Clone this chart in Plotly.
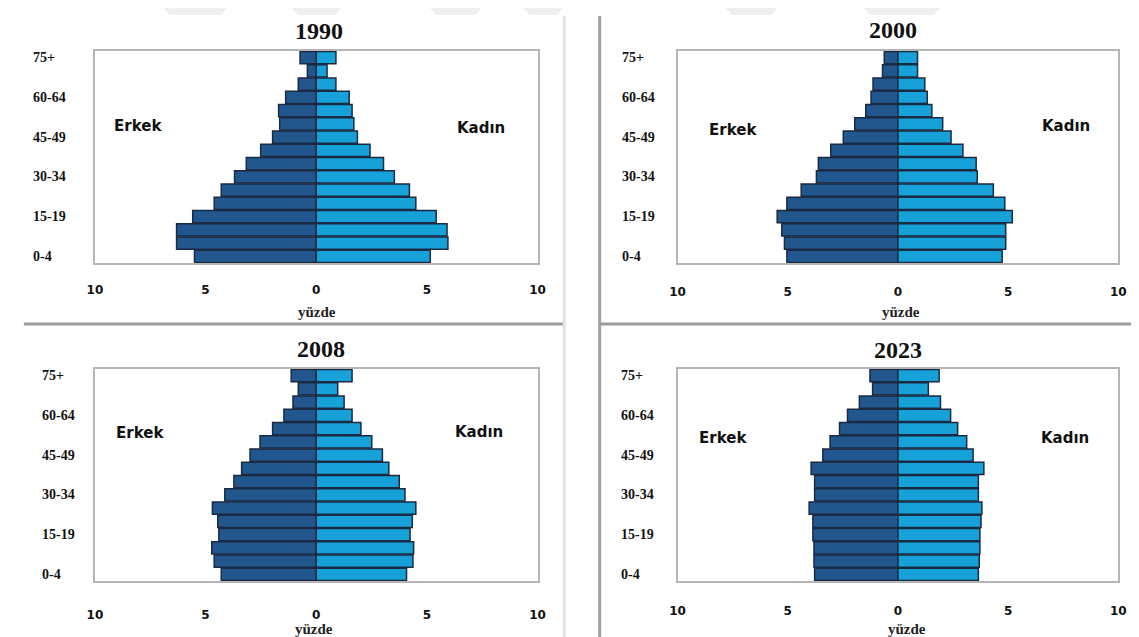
import plotly.graph_objects as go

W, H = 1139, 637

age_groups = ["0-4", "5-9", "10-14", "15-19", "20-24", "25-29", "30-34", "35-39",
              "40-44", "45-49", "50-54", "55-59", "60-64", "65-69", "70-74", "75+"]
age_tick_labels = ["0-4", "15-19", "30-34", "45-49", "60-64", "75+"]

years = ["1990", "2000", "2008", "2023"]

male_1990 = [5.50, 6.31, 6.31, 5.58, 4.61, 4.29, 3.69, 3.16, 2.51, 1.97, 1.65, 1.70, 1.38, 0.81, 0.40, 0.73]
female_1990 = [5.15, 5.95, 5.91, 5.42, 4.50, 4.21, 3.53, 3.04, 2.43, 1.86, 1.70, 1.62, 1.49, 0.89, 0.49, 0.89]

male_2000 = [5.04, 5.15, 5.27, 5.48, 5.04, 4.39, 3.70, 3.61, 3.05, 2.48, 1.96, 1.46, 1.22, 1.13, 0.70, 0.62]
female_2000 = [4.73, 4.89, 4.89, 5.19, 4.85, 4.33, 3.60, 3.55, 2.95, 2.41, 2.03, 1.54, 1.33, 1.22, 0.89, 0.89]

male_2008 = [4.29, 4.61, 4.72, 4.40, 4.45, 4.69, 4.13, 3.72, 3.37, 2.99, 2.54, 1.97, 1.46, 1.05, 0.81, 1.13]
female_2008 = [4.08, 4.37, 4.40, 4.24, 4.34, 4.50, 4.01, 3.75, 3.28, 2.99, 2.51, 2.02, 1.62, 1.26, 0.97, 1.62]

male_2023 = [3.78, 3.81, 3.81, 3.86, 3.86, 4.03, 3.78, 3.78, 3.94, 3.41, 3.08, 2.65, 2.29, 1.75, 1.15, 1.27]
female_2023 = [3.65, 3.69, 3.72, 3.72, 3.77, 3.81, 3.65, 3.65, 3.90, 3.41, 3.12, 2.71, 2.39, 1.93, 1.38, 1.87]

x_tick_vals = [-10, -5, 0, 5, 10]
x_tick_text = ["10", "5", "0", "5", "10"]

male_label = "Erkek"
female_label = "Kadın"
x_title = "yüzde"

MALE_COLOR = "#22578e"
FEMALE_COLOR = "#17a1d9"
OUTLINE = "#1a2a42"

male_data = [male_1990, male_2000, male_2008, male_2023]
female_data = [female_1990, female_2000, female_2008, female_2023]


def px_x(v):
    return v / W


def px_y(v):
    return 1 - v / H


panels = [
    dict(x0=80, x1=529, y0=43, y1=255, title=(307, 23), ylab_x=15, standoff=15,
         erkek=(124, 118), kadin=(472, 120), yuzde=(305, 304)),
    dict(x0=671, x1=1118, y0=43, y1=255, title=(889, 22), ylab_x=613, standoff=17,
         erkek=(727, 122), kadin=(1065, 118), yuzde=(898, 304)),
    dict(x0=80, x1=529, y0=361, y1=573, title=(309, 341), ylab_x=24, standoff=22,
         erkek=(126, 425), kadin=(470, 424), yuzde=(302, 621)),
    dict(x0=671, x1=1118, y0=361, y1=573, title=(895, 342), ylab_x=612, standoff=18,
         erkek=(717, 430), kadin=(1064, 430), yuzde=(904, 621)),
]

fig = go.Figure()
annotations = []
shapes = []

for i, (year, male, female, p) in enumerate(zip(years, male_data, female_data, panels)):
    n = "" if i == 0 else str(i + 1)
    xa, ya = "x" + n, "y" + n
    fig.add_trace(go.Bar(
        y=age_groups, x=[-v for v in male], orientation="h", xaxis=xa, yaxis=ya,
        marker=dict(color=MALE_COLOR, line=dict(color=OUTLINE, width=1.5)),
        name=male_label, showlegend=False,
        customdata=male, hovertemplate="%{y}: %{customdata}<extra>" + male_label + "</extra>",
    ))
    fig.add_trace(go.Bar(
        y=age_groups, x=female, orientation="h", xaxis=xa, yaxis=ya,
        marker=dict(color=FEMALE_COLOR, line=dict(color=OUTLINE, width=1.5)),
        name=female_label, showlegend=False,
        hovertemplate="%{y}: %{x}<extra>" + female_label + "</extra>",
    ))
    fig.layout["xaxis" + n] = dict(
        domain=[px_x(p["x0"]), px_x(p["x1"])], range=[-10, 10], anchor=ya,
        tickvals=x_tick_vals, ticktext=["<b>" + t + "</b>" for t in x_tick_text], ticks="",
        ticklabelstandoff=p["standoff"],
        tickfont=dict(family="DejaVu Sans", size=12, color="#111"),
        showgrid=False, zeroline=True, zerolinecolor="#17202e", zerolinewidth=2.5,
        showline=True, mirror=True, linecolor="#b5b5b5", linewidth=2,
        layer="above traces", fixedrange=True,
    )
    fig.layout["yaxis" + n] = dict(
        domain=[px_y(p["y1"]), px_y(p["y0"])], type="category",
        categoryorder="array", categoryarray=age_groups,
        range=[-0.5, len(age_groups) - 0.5], anchor=xa,
        showticklabels=False, ticks="", showgrid=False, zeroline=False,
        showline=True, mirror=True, linecolor="#b5b5b5", linewidth=2, fixedrange=True,
    )
    for lab in age_tick_labels:
        annotations.append(dict(
            text="<b>" + lab + "</b>", xref="paper", yref=ya, x=px_x(p["ylab_x"]), y=lab,
            xanchor="left", yanchor="middle", showarrow=False,
            font=dict(family="Liberation Serif", size=14, color="#111"),
        ))
    annotations.append(dict(
        text="<b>" + year + "</b>", xref="paper", yref="paper",
        x=px_x(p["title"][0]), y=px_y(p["title"][1]), xanchor="center", yanchor="middle",
        showarrow=False, font=dict(family="Liberation Serif", size=24, color="#111"),
    ))
    annotations.append(dict(
        text="<b>" + male_label + "</b>", xref="paper", yref="paper",
        x=px_x(p["erkek"][0]), y=px_y(p["erkek"][1]), xanchor="center", yanchor="middle",
        showarrow=False, font=dict(family="DejaVu Sans", size=15, color="#111"),
    ))
    annotations.append(dict(
        text="<b>" + female_label + "</b>", xref="paper", yref="paper",
        x=px_x(p["kadin"][0]), y=px_y(p["kadin"][1]), xanchor="center", yanchor="middle",
        showarrow=False, font=dict(family="DejaVu Sans", size=15, color="#111"),
    ))
    annotations.append(dict(
        text="<b>" + x_title + "</b>", xref="paper", yref="paper",
        x=px_x(p["yuzde"][0]), y=px_y(p["yuzde"][1]), xanchor="center", yanchor="middle",
        showarrow=False, font=dict(family="Liberation Serif", size=15, color="#222"),
    ))


def line(x0, y0, x1, y1, color, width):
    shapes.append(dict(type="line", xref="paper", yref="paper",
                       x0=px_x(x0), y0=px_y(y0), x1=px_x(x1), y1=px_y(y1),
                       line=dict(color=color, width=width), layer="below"))


line(8, 316, 556, 316, "#9c9c9c", 3)
line(556, 8, 556, 637, "#e2e2e2", 3)
line(592, 8, 592, 637, "#a2a2a2", 3)
line(592, 316, 1139, 316, "#9c9c9c", 3)
line(8, 634, 556, 634, "#a8a8a8", 3)
line(592, 634, 1139, 634, "#a8a8a8", 3)

for a, b in [(150, 214), (280, 330), (420, 472), (515, 555), (720, 772), (860, 937)]:
    path = "M {} {} L {} {} L {} {} L {} {} Z".format(
        px_x(a), px_y(0), px_x(b), px_y(0), px_x(b - 6), px_y(7), px_x(a + 6), px_y(7))
    shapes.append(dict(type="path", xref="paper", yref="paper", path=path,
                       fillcolor="#efefef", line=dict(width=0), layer="below"))

fig.update_layout(
    width=W, height=H, margin=dict(l=0, r=0, t=0, b=0),
    paper_bgcolor="white", plot_bgcolor="white",
    barmode="overlay", bargap=0.06,
    annotations=annotations, shapes=shapes, showlegend=False,
)

fig.write_html("out.html")
